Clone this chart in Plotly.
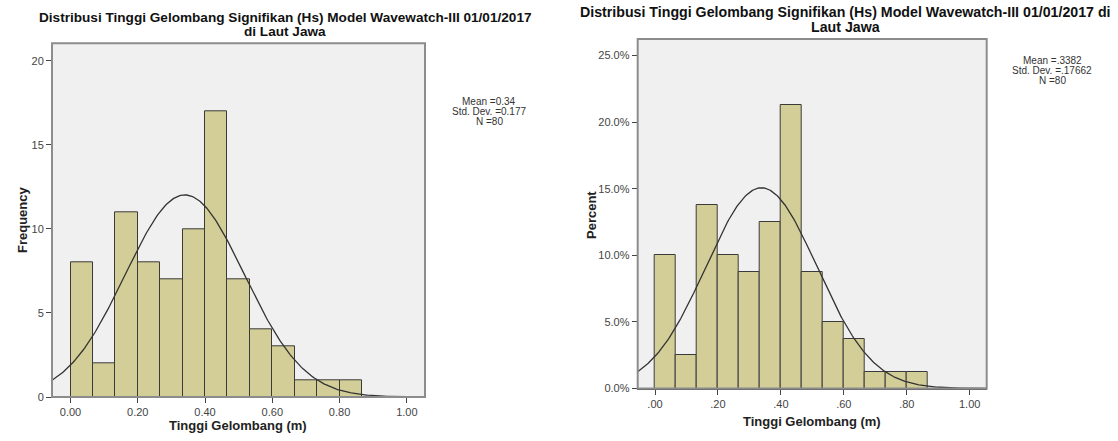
import numpy as np
import plotly.graph_objects as go

# ---- data ----
bin_starts = [0.0, 0.0667, 0.1333, 0.2, 0.2667, 0.3333, 0.4, 0.4667, 0.5333, 0.6, 0.6667, 0.7333, 0.8]
bin_width = 0.0667
frequency = [8, 2, 11, 8, 7, 10, 17, 7, 4, 3, 1, 1, 1]
percent = [10.0, 2.5, 13.75, 10.0, 8.75, 12.5, 21.25, 8.75, 5.0, 3.75, 1.25, 1.25, 1.25]

mean_left, sd_left, n_left = 0.34, 0.177, 80
mean_right, sd_right, n_right = 0.3382, 0.17662, 80

x_ticks = [0.0, 0.2, 0.4, 0.6, 0.8, 1.0]
x_ticklabels_left = ["0.00", "0.20", "0.40", "0.60", "0.80", "1.00"]
x_ticklabels_right = [".00", ".20", ".40", ".60", ".80", "1.00"]
y_ticks_left = [0, 5, 10, 15, 20]
y_ticks_right = [0, 5, 10, 15, 20, 25]
y_ticklabels_right = ["0.0%", "5.0%", "10.0%", "15.0%", "20.0%", "25.0%"]

title_text = "Distribusi Tinggi Gelombang Signifikan (Hs) Model Wavewatch-III 01/01/2017"
x_title = "Tinggi Gelombang (m)"

# ---- style ----
FONT = "Arial, Liberation Sans, sans-serif"
BAR_FILL = "#d3ce97"
BAR_LINE = "#3a3a3a"
PLOT_BG = "#f0f0f0"
CURVE = "#333333"

xr = [-0.055, 1.054]
centers = [s + bin_width / 2 for s in bin_starts]


def normal_curve(mean, sd, scale):
    xs = np.linspace(xr[0], xr[1], 300)
    ys = scale * np.exp(-0.5 * ((xs - mean) / sd) ** 2) / (sd * np.sqrt(2 * np.pi))
    return xs, ys


fig = go.Figure()

# left: frequency
fig.add_trace(go.Bar(x=centers, y=frequency, width=bin_width, marker=dict(color=BAR_FILL, line=dict(color=BAR_LINE, width=1)),
                     xaxis="x", yaxis="y", showlegend=False))
cx, cy = normal_curve(mean_left, sd_left, n_left * bin_width)
fig.add_trace(go.Scatter(x=cx, y=cy, mode="lines", line=dict(color=CURVE, width=1.3), xaxis="x", yaxis="y", showlegend=False))

# right: percent
fig.add_trace(go.Bar(x=centers, y=percent, width=bin_width, marker=dict(color=BAR_FILL, line=dict(color=BAR_LINE, width=1)),
                     xaxis="x2", yaxis="y2", showlegend=False))
cx2, cy2 = normal_curve(mean_right, sd_right, 100 * bin_width)
fig.add_trace(go.Scatter(x=cx2, y=cy2, mode="lines", line=dict(color=CURVE, width=1.3), xaxis="x2", yaxis="y2", showlegend=False))

W, H = 1118, 441
def px_x(p): return p / W
def px_y(p): return 1 - p / H

axis_common = dict(showgrid=False, zeroline=False, ticks="outside", ticklen=5, tickcolor="#444", automargin=False,
                   showline=True, linecolor="#555", linewidth=1, tickfont=dict(family=FONT, size=11, color="#444"))

fig.update_layout(
    width=W, height=H,
    margin=dict(l=0, r=0, t=0, b=0, autoexpand=False),
    paper_bgcolor="white",
    plot_bgcolor=PLOT_BG,
    bargap=0,
    font=dict(family=FONT),
    xaxis=dict(domain=[px_x(52), px_x(425)], range=xr, tickvals=x_ticks, ticktext=x_ticklabels_left, anchor="y", **axis_common),
    yaxis=dict(domain=[px_y(397), px_y(43.3)], range=[0, 21.05], tickvals=y_ticks_left, anchor="x", **axis_common),
    xaxis2=dict(domain=[px_x(637.7), px_x(986.7)], range=xr, tickvals=x_ticks, ticktext=x_ticklabels_right, anchor="y2", **axis_common),
    yaxis2=dict(domain=[px_y(388.5), px_y(39)], range=[0, 26.24], tickvals=y_ticks_right, ticktext=y_ticklabels_right, anchor="x2", **axis_common),
)

# frames
for x0, x1, y0, y1 in [(52, 425, 397, 43.3), (637.7, 986.7, 388.5, 39)]:
    fig.add_shape(type="rect", xref="paper", yref="paper", x0=px_x(x0), x1=px_x(x1), y0=px_y(y0), y1=px_y(y1),
                  line=dict(color="#8c8c8c", width=2), fillcolor="rgba(0,0,0,0)", layer="above")

ann = []
TS = 13.6
TS2 = 14.2
# titles
ann.append(dict(x=px_x(285), y=px_y(17), text="<b>" + title_text + "</b>", font=dict(size=TS, color="#111")))
ann.append(dict(x=px_x(285), y=px_y(31), text="<b>di Laut Jawa</b>", font=dict(size=TS, color="#111")))
ann.append(dict(x=px_x(845), y=px_y(12), text="<b>" + title_text + " di</b>", font=dict(size=TS2, color="#111")))
ann.append(dict(x=px_x(845), y=px_y(27), text="<b>Laut Jawa</b>", font=dict(size=TS2, color="#111")))
# axis titles
ann.append(dict(x=px_x(238), y=px_y(425), text="<b>" + x_title + "</b>", font=dict(size=13, color="#222")))
ann.append(dict(x=px_x(812), y=px_y(421), text="<b>" + x_title + "</b>", font=dict(size=13, color="#222")))
ann.append(dict(x=px_x(22), y=px_y(220), text="<b>Frequency</b>", textangle=-90, font=dict(size=13, color="#222")))
ann.append(dict(x=px_x(592), y=px_y(215), text="<b>Percent</b>", textangle=-90, font=dict(size=13, color="#222")))
# stats
for i, t in enumerate(["Mean =%.2f" % mean_left, "Std. Dev. =%.3f" % sd_left, "N =%d" % n_left]):
    ann.append(dict(x=px_x(489), y=px_y(101 + 10 * i), text=t, font=dict(size=10, color="#333")))
for i, t in enumerate(["Mean =.3382", "Std. Dev. =.17662", "N =%d" % n_right]):
    ann.append(dict(x=px_x(1052), y=px_y(61 + 9.5 * i), text=t, font=dict(size=10, color="#333")))

for a in ann:
    a.update(xref="paper", yref="paper", showarrow=False, xanchor="center", yanchor="middle")
    a["font"]["family"] = FONT
    fig.add_annotation(**a)

fig.write_html("out.html", config={"displayModeBar": False},
               post_script="document.body.style.margin='0';document.body.style.overflow='hidden';")
